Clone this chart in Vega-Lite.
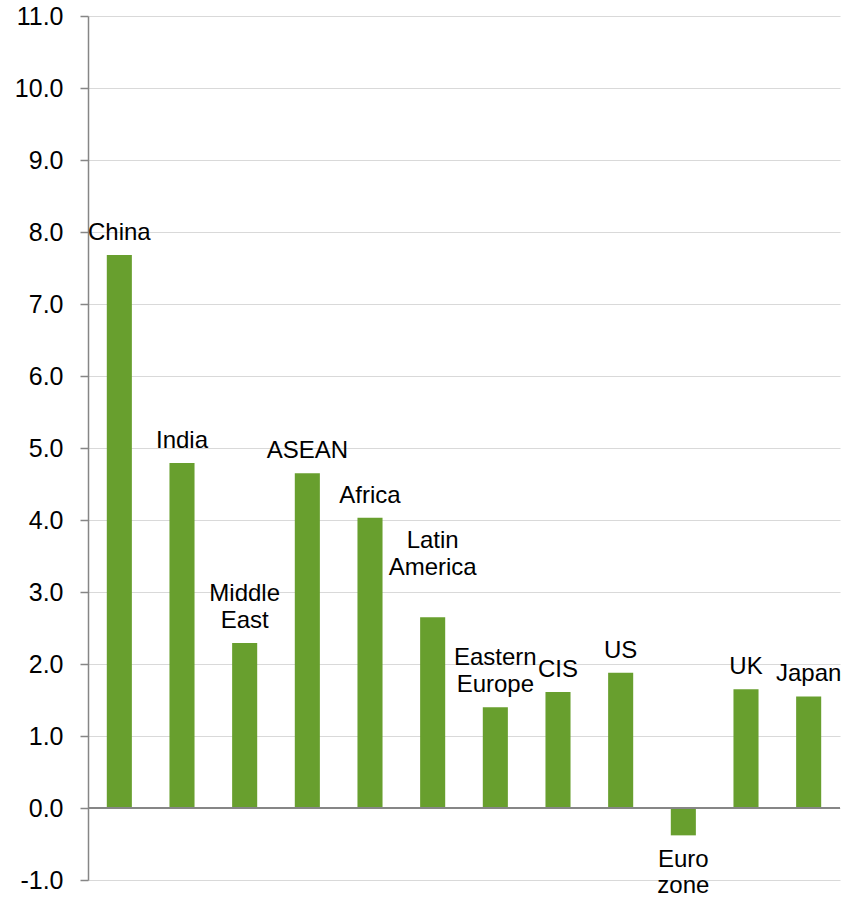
{
  "$schema": "https://vega.github.io/schema/vega-lite/v6.json",
  "width": 752,
  "height": 864,
  "autosize": {"type": "none"},
  "padding": {"left": 88, "top": 16, "right": 2, "bottom": 19},
  "background": "white",
  "config": {"view": {"stroke": null}, "font": "Liberation Sans"},
  "data": {
    "values": [
      {"region": "China", "l1": "China", "value": 7.68},
      {"region": "India", "l1": "India", "value": 4.79},
      {"region": "Middle East", "l1": "East", "l2": "Middle", "value": 2.29},
      {"region": "ASEAN", "l1": "ASEAN", "value": 4.65},
      {"region": "Africa", "l1": "Africa", "value": 4.03},
      {"region": "Latin America", "l2": "America", "l3": "Latin", "value": 2.65},
      {"region": "Eastern Europe", "l1": "Europe", "l2": "Eastern", "value": 1.40},
      {"region": "CIS", "l1": "CIS", "value": 1.61},
      {"region": "US", "l1": "US", "value": 1.88},
      {"region": "Euro zone", "l1": "Euro", "l2": "zone", "value": -0.38},
      {"region": "UK", "l1": "UK", "value": 1.65},
      {"region": "Japan", "l1": "Japan", "value": 1.55}
    ]
  },
  "layer": [
    {
      "mark": {"type": "bar", "color": "#689f2e"},
      "encoding": {
        "x": {"field": "region", "type": "nominal", "sort": null, "scale": {"paddingInner": 0.6, "paddingOuter": 0.3}, "axis": null},
        "y": {
          "field": "value", "type": "quantitative",
          "scale": {"domain": [-1, 11], "nice": false, "zero": false},
          "axis": {
            "title": null,
            "values": [-1, 0, 1, 2, 3, 4, 5, 6, 7, 8, 9, 10, 11],
            "format": ".1f",
            "labelExpr": "replace(datum.label, '\u2212', '-')",
            "labelFont": "Liberation Sans",
            "labelFontSize": 25,
            "labelColor": "#000000",
            "labelPadding": 17,
            "tickSize": 8,
            "tickColor": "#868686",
            "tickWidth": 1.5,
            "domainColor": "#868686",
            "domainWidth": 1.5,
            "gridColor": "#d9d9d9",
            "gridWidth": 1.2
          }
        }
      }
    },
    {
      "mark": {"type": "rule", "color": "#868686", "strokeWidth": 1.5},
      "encoding": {"y": {"datum": 0}}
    },
    {
      "transform": [{"filter": "datum.value >= 0 && isValid(datum.l1)"}],
      "mark": {"type": "text", "baseline": "bottom", "align": "center", "dy": -10, "fontSize": 24, "color": "#000000", "font": "Liberation Sans"},
      "encoding": {
        "x": {"field": "region", "type": "nominal", "sort": null},
        "y": {"field": "value", "type": "quantitative"},
        "text": {"field": "l1", "type": "nominal"}
      }
    },
    {
      "transform": [{"filter": "datum.value >= 0 && isValid(datum.l2)"}],
      "mark": {"type": "text", "baseline": "bottom", "align": "center", "dy": -37, "fontSize": 24, "color": "#000000", "font": "Liberation Sans"},
      "encoding": {
        "x": {"field": "region", "type": "nominal", "sort": null},
        "y": {"field": "value", "type": "quantitative"},
        "text": {"field": "l2", "type": "nominal"}
      }
    },
    {
      "transform": [{"filter": "datum.value >= 0 && isValid(datum.l3)"}],
      "mark": {"type": "text", "baseline": "bottom", "align": "center", "dy": -64, "fontSize": 24, "color": "#000000", "font": "Liberation Sans"},
      "encoding": {
        "x": {"field": "region", "type": "nominal", "sort": null},
        "y": {"field": "value", "type": "quantitative"},
        "text": {"field": "l3", "type": "nominal"}
      }
    },
    {
      "transform": [{"filter": "datum.value < 0 && isValid(datum.l1)"}],
      "mark": {"type": "text", "baseline": "top", "align": "center", "dy": 13, "fontSize": 24, "color": "#000000", "font": "Liberation Sans"},
      "encoding": {
        "x": {"field": "region", "type": "nominal", "sort": null},
        "y": {"field": "value", "type": "quantitative"},
        "text": {"field": "l1", "type": "nominal"}
      }
    },
    {
      "transform": [{"filter": "datum.value < 0 && isValid(datum.l2)"}],
      "mark": {"type": "text", "baseline": "top", "align": "center", "dy": 39, "fontSize": 24, "color": "#000000", "font": "Liberation Sans"},
      "encoding": {
        "x": {"field": "region", "type": "nominal", "sort": null},
        "y": {"field": "value", "type": "quantitative"},
        "text": {"field": "l2", "type": "nominal"}
      }
    }
  ]
}
